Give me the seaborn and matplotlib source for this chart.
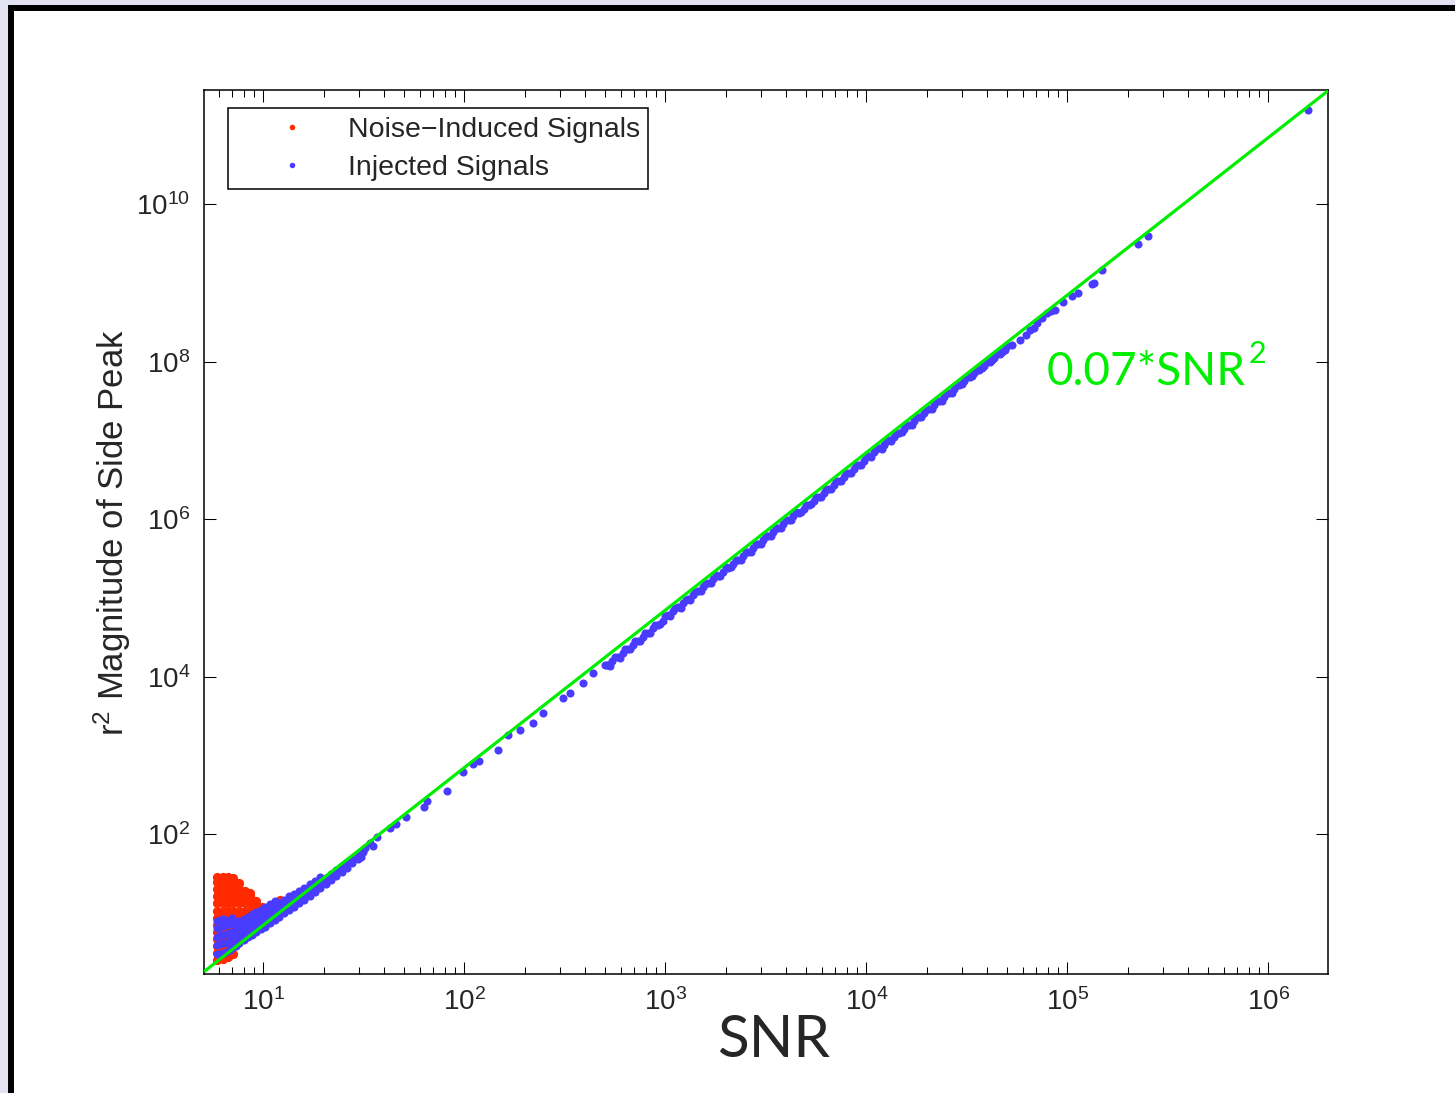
import matplotlib
matplotlib.use("Agg")
import matplotlib.pyplot as plt
import seaborn as sns
import numpy as np
import pandas as pd
from matplotlib.patches import Rectangle
from matplotlib.lines import Line2D
from matplotlib.ticker import FixedLocator, FixedFormatter, LogLocator, NullLocator, NullFormatter

# ---------------- data ----------------
# Noise-induced signals: dense blob at low SNR, by SNR column
red_col_snr = [5.9, 6.3, 6.7, 7.1, 7.6, 8.1, 8.6, 9.2, 9.8, 10.4, 12.1]
red_col_r2 = [
    [2.5, 3.1, 3.8, 4.7, 5.8, 7.1, 8.7, 10.7, 13.2, 16.2, 20.0, 24.5, 28.5],
    [2.6, 3.1, 3.8, 4.7, 5.8, 7.1, 8.7, 10.7, 13.2, 16.2, 20.0, 24.5, 29.0],
    [2.8, 3.8, 4.7, 5.8, 7.1, 8.7, 10.7, 13.2, 16.2, 20.0, 24.5, 28.5],
    [3.0, 3.8, 4.7, 5.8, 7.1, 8.7, 10.7, 13.2, 16.2, 20.0, 24.5, 27.5],
    [4.7, 5.8, 7.1, 8.7, 10.7, 13.2, 16.2, 20.0, 24.0],
    [5.8, 7.1, 8.7, 10.7, 13.2, 16.2, 19.0],
    [7.1, 8.7, 10.7, 13.2, 16.2, 18.0],
    [8.7, 10.7, 12.5, 14.0],
    [9.5, 11.0, 12.0],
    [10.5],
    [14.8],
]

# Injected signals, low-SNR band, by SNR column
blue_low_snr = [5.9, 6.1, 6.3, 6.5, 6.8, 7.0, 7.3, 7.6, 8.0, 8.4, 8.8, 9.2, 9.7,
                10.2, 10.8, 11.4, 12.0, 12.7, 13.4, 14.2, 15.0, 16.0, 17.0, 18.0,
                19.2, 20.4, 21.6, 23.0, 24.5, 26.0, 27.7, 29.5]
blue_low_r2 = [
    [3.0, 3.9, 5.0, 6.4, 8.0], [3.0, 4.0, 5.2, 6.6, 8.2], [3.1, 4.1, 5.3, 6.8, 8.3],
    [3.2, 4.2, 5.4, 7.0, 8.1], [3.4, 4.4, 5.6, 7.2], [3.6, 4.6, 5.8, 7.4, 8.6],
    [3.8, 4.9, 6.1, 7.6], [4.1, 5.2, 6.4, 8.0], [4.5, 5.6, 6.9, 8.5],
    [4.9, 6.0, 7.4, 9.0], [5.3, 6.5, 8.0, 9.6], [5.7, 7.0, 8.6, 10.3],
    [6.2, 7.6, 9.3, 11.0], [6.7, 8.2, 10.0, 12.0], [7.4, 9.0, 11.0, 13.0],
    [8.2, 10.0, 12.2, 14.0], [9.0, 11.0, 13.4], [9.9, 12.1, 14.8],
    [10.8, 13.2, 16.2], [12.0, 14.6, 17.6], [13.2, 16.0, 19.0],
    [14.8, 17.8, 21.0], [16.5, 19.8, 23.5], [18.4, 22.0, 25.5],
    [20.8, 24.5, 28.5], [23.5, 27.5], [26.0, 31.0], [29.5, 35.0],
    [33.5, 39.0], [37.5, 44.0], [43.0, 49.0], [48.5, 55.0],
]

# Injected signals, sparse points 30 < SNR < 520
blue_mid_snr = [30.5, 31.2, 32.2, 34.1, 35.0, 36.9, 42.8, 45.9, 51.4, 63.2, 65.5,
                82.2, 98.9, 111.0, 118.8, 147.6, 165.6, 190.0, 220.0, 247.0,
                311.0, 337.0, 391.0, 439.0, 514.0]
blue_mid_r2 = [52.0, 60.0, 66.4, 76.9, 70.5, 91.6, 119.0, 134.0, 164.0, 220.0, 262.0,
               351.0, 612.0, 774.0, 845.0, 1166.0, 1836.0, 2123.0, 2606.0, 3491.0,
               5408.0, 6266.0, 8395.0, 11245.0, 14200.0]

# Injected signals, dense band 500 < SNR < 5.4e4 (upper / lower edge points)
blue_band_snr = [501, 531, 562, 596, 631, 668, 708, 750, 794, 841, 891, 944,
                 1000, 1060, 1120, 1190, 1260, 1330, 1410, 1500, 1580, 1680, 1780, 1880,
                 2000, 2110, 2240, 2370, 2510, 2660, 2820, 2990, 3160, 3350, 3550, 3760,
                 3980, 4220, 4470, 4730, 5010, 5310, 5620, 5960, 6310, 6680, 7080, 7500,
                 7940, 8410, 8910, 9440,
                 1.00e4, 1.06e4, 1.12e4, 1.19e4, 1.26e4, 1.33e4, 1.41e4, 1.50e4, 1.58e4,
                 1.68e4, 1.78e4, 1.88e4, 2.00e4, 2.11e4, 2.24e4, 2.37e4, 2.51e4, 2.66e4,
                 2.82e4, 2.99e4, 3.16e4, 3.35e4, 3.55e4, 3.76e4, 3.98e4, 4.22e4, 4.47e4,
                 4.73e4, 5.01e4, 5.31e4]
blue_band_r2 = [14060, 13820, 17690, 17400, 22300, 22490, 28070, 28350, 36190, 36140,
                45570, 46160,
                59500, 59800, 74600, 75300, 95500, 95500, 119500, 121300, 150500, 152500,
                193100, 190200, 243600, 243400, 305400, 306500, 383700, 386100, 484600,
                488300, 608100, 612300, 767300, 772200, 964800, 972700, 1.217e6, 1.221e6,
                1.529e6, 1.540e6, 1.924e6, 1.939e6, 2.425e6, 2.436e6, 3.053e6, 3.072e6,
                3.839e6, 3.862e6, 4.835e6, 4.866e6,
                6.16e6, 6.22e6, 7.73e6, 7.83e6, 9.77e6, 9.92e6, 1.223e7, 1.26e7, 1.558e7,
                1.584e7, 1.976e7, 1.976e7, 2.492e7, 2.527e7, 3.124e7, 3.183e7, 3.969e7,
                4.01e7, 5.013e7, 5.133e7, 6.291e7, 6.516e7, 7.938e7, 8.316e7, 9.98e7,
                1.06e8, 1.259e8, 1.315e8, 1.581e8, 1.619e8]

# Injected signals, dense band centre points
blue_band_mid_snr = [516, 546, 579, 613, 649, 688, 729, 772, 818, 866, 917, 972,
                     1030, 1090, 1160, 1220, 1300, 1370, 1450, 1540, 1630, 1730, 1830, 1940,
                     2050, 2170, 2300, 2440, 2580, 2740, 2900, 3070, 3260, 3450, 3650, 3870,
                     4100, 4340, 4600, 4870, 5160, 5460, 5790, 6130, 6490, 6880, 7290, 7720,
                     8180, 8660, 9170, 9720,
                     1.03e4, 1.09e4, 1.16e4, 1.22e4, 1.30e4, 1.37e4, 1.45e4, 1.54e4, 1.63e4,
                     1.73e4, 1.83e4, 1.94e4, 2.05e4, 2.17e4, 2.30e4, 2.44e4, 2.58e4, 2.74e4,
                     2.90e4, 3.07e4, 3.26e4, 3.45e4, 3.65e4, 3.87e4, 4.10e4, 4.34e4, 4.60e4,
                     4.87e4]
blue_band_mid_r2 = [13980, 15650, 17600, 19730, 22410, 25180, 28270, 32120, 36070, 40950,
                    45910, 51580,
                    60900, 68200, 77200, 85400, 97000, 107700, 120700, 136100, 152500,
                    171800, 192200, 216100, 241200, 270300, 303600, 341800, 382000, 430900,
                    482700, 541000, 610100, 683200, 764700, 859700, 964900, 1.081e6,
                    1.215e6, 1.361e6, 1.529e6, 1.711e6, 1.924e6, 2.157e6, 2.418e6, 2.717e6,
                    3.050e6, 3.421e6, 3.841e6, 4.305e6, 4.827e6, 5.423e6,
                    6.316e6, 7.072e6, 8.007e6, 8.857e6, 1.006e7, 1.117e7, 1.251e7, 1.411e7,
                    1.581e7, 1.781e7, 1.992e7, 2.240e7, 2.501e7, 2.802e7, 3.148e7, 3.543e7,
                    3.960e7, 4.467e7, 5.004e7, 5.608e7, 6.324e7, 7.082e7, 7.927e7, 8.911e7,
                    1.000e8, 1.121e8, 1.259e8, 1.411e8]

# Injected signals, sparse points at high SNR
blue_high_snr = [5.8e4, 6.2e4, 6.5e4, 6.8e4, 7.1e4, 7.5e4, 7.9e4, 8.3e4, 8.7e4, 9.55e4,
                 1.06e5, 1.13e5, 1.33e5, 1.36e5, 1.49e5, 2.25e5, 2.53e5, 1.58e6]
blue_high_r2 = [1.87e8, 2.2e8, 2.5e8, 2.7e8, 3.1e8, 3.6e8, 4.1e8, 4.4e8, 4.5e8, 5.7e8,
                6.9e8, 7.4e8, 9.6e8, 1.0e9, 1.45e9, 3.1e9, 3.93e9, 1.56e11]

# fitted curve shown in the chart: 0.07*SNR^2
fit_coeff = 0.07
fit_power = 2

legend_labels = ["Noise\u2212Induced Signals", "Injected Signals"]
x_tick_values = [1e1, 1e2, 1e3, 1e4, 1e5, 1e6]
x_tick_labels = [r"$\mathregular{10^{1}}$", r"$\mathregular{10^{2}}$", r"$\mathregular{10^{3}}$",
                 r"$\mathregular{10^{4}}$", r"$\mathregular{10^{5}}$", r"$\mathregular{10^{6}}$"]
y_tick_values = [1e2, 1e4, 1e6, 1e8, 1e10]
y_tick_labels = [r"$\mathregular{10^{2}}$", r"$\mathregular{10^{4}}$", r"$\mathregular{10^{6}}$",
                 r"$\mathregular{10^{8}}$", r"$\mathregular{10^{10}}$"]

# ---------------- tables ----------------
red_df = pd.DataFrame({
    "snr": [s for s, col in zip(red_col_snr, red_col_r2) for _ in col],
    "r2": [v for col in red_col_r2 for v in col],
})
blue_df = pd.DataFrame({
    "snr": [s for s, col in zip(blue_low_snr, blue_low_r2) for _ in col]
           + blue_mid_snr + blue_band_snr + blue_band_mid_snr + blue_high_snr,
    "r2": [v for col in blue_low_r2 for v in col]
          + blue_mid_r2 + blue_band_r2 + blue_band_mid_r2 + blue_high_r2,
})

# ---------------- style ----------------
sns.set_style("ticks")
plt.rcParams["font.family"] = ["Liberation Sans", "DejaVu Sans"]
plt.rcParams["mathtext.fontset"] = "custom"
plt.rcParams["mathtext.rm"] = "Liberation Sans"
plt.rcParams["mathtext.it"] = "Liberation Sans:italic"
plt.rcParams["mathtext.bf"] = "Liberation Sans:bold"

RED = "#ff2a00"
BLUE = "#4a3cff"
GREEN = "#00ee00"

W, H = 1455, 1093
fig = plt.figure(figsize=(W / 100, H / 100), dpi=100, facecolor="#e2e2f2")
panel = Rectangle((11 / W, -0.2), 1.5, 1.2 - 8 / H, transform=fig.transFigure,
                  facecolor="white", edgecolor="black", linewidth=4.3, zorder=-5)
fig.add_artist(panel)

ax = fig.add_axes([204 / W, 1 - 974 / H, 1124 / W, 884 / H])
ax.set_facecolor("white")

sns.scatterplot(data=red_df, x="snr", y="r2", color=RED, s=44, linewidth=0,
                ax=ax, legend=False, zorder=2)
sns.scatterplot(data=blue_df, x="snr", y="r2", color=BLUE, s=34, linewidth=0,
                ax=ax, legend=False, zorder=3)

ax.set_xscale("log")
ax.set_yscale("log")
ax.set_xlim(5.07, 1.98e6)
ax.set_ylim(1.68, 2.81e11)

xs = np.array(ax.get_xlim())
ax.plot(xs, fit_coeff * xs ** fit_power, color=GREEN, lw=2.3, zorder=4,
        solid_capstyle="butt")

ax.xaxis.set_major_locator(FixedLocator(x_tick_values))
ax.xaxis.set_major_formatter(FixedFormatter(x_tick_labels))
ax.xaxis.set_minor_locator(LogLocator(base=10, subs=np.arange(2, 10), numticks=100))
ax.xaxis.set_minor_formatter(NullFormatter())
ax.yaxis.set_major_locator(FixedLocator(y_tick_values))
ax.yaxis.set_major_formatter(FixedFormatter(y_tick_labels))
ax.yaxis.set_minor_locator(NullLocator())

ax.tick_params(which="both", direction="in", top=True, right=True, width=0.75,
               color="black")
ax.tick_params(which="major", length=8.6, labelsize=20, pad=10)
ax.tick_params(which="minor", length=4.7)
for sp in ax.spines.values():
    sp.set_linewidth(1.1)
    sp.set_color("black")

ax.set_xlabel("SNR", fontsize=42, family=["Lato", "DejaVu Sans"])
ax.xaxis.set_label_coords(0.507, -0.0939)
ax.xaxis.label.set_verticalalignment("baseline")

ax.set_ylabel(r"$\mathregular{r^{2}}$ Magnitude of Side Peak", fontsize=25)
ax.yaxis.set_label_coords(-0.0712, 0.5)
ax.yaxis.label.set_verticalalignment("baseline")

fit_text = ax.text(7.87e4, 5.06e7, "0.07*SNR", color=GREEN, fontsize=33,
                   family=["Lato", "DejaVu Sans"], ha="left", va="baseline", zorder=5)

handles = [Line2D([], [], ls="", marker="o", color=RED, markersize=4, mew=0),
           Line2D([], [], ls="", marker="o", color=BLUE, markersize=4, mew=0)]
leg = ax.legend(handles, legend_labels, loc="upper left",
                bbox_to_anchor=(0.02135, 0.9796), borderaxespad=0, fontsize=20.5,
                frameon=True, fancybox=False, edgecolor="black", framealpha=1,
                borderpad=0.30, labelspacing=0.42, handlelength=3.9,
                handletextpad=0.0)
leg.get_frame().set_linewidth(1.1)

# superscript "2" of the green label, placed right after the base text
fig.canvas.draw()
bb = fit_text.get_window_extent()
fig.text((bb.x1 + 3) / W, (H - 340) / H, "2", color=GREEN, fontsize=22,
         family=["Lato", "DejaVu Sans"], ha="left", va="top")

fig.savefig("out.png", dpi=100, facecolor=fig.get_facecolor())
